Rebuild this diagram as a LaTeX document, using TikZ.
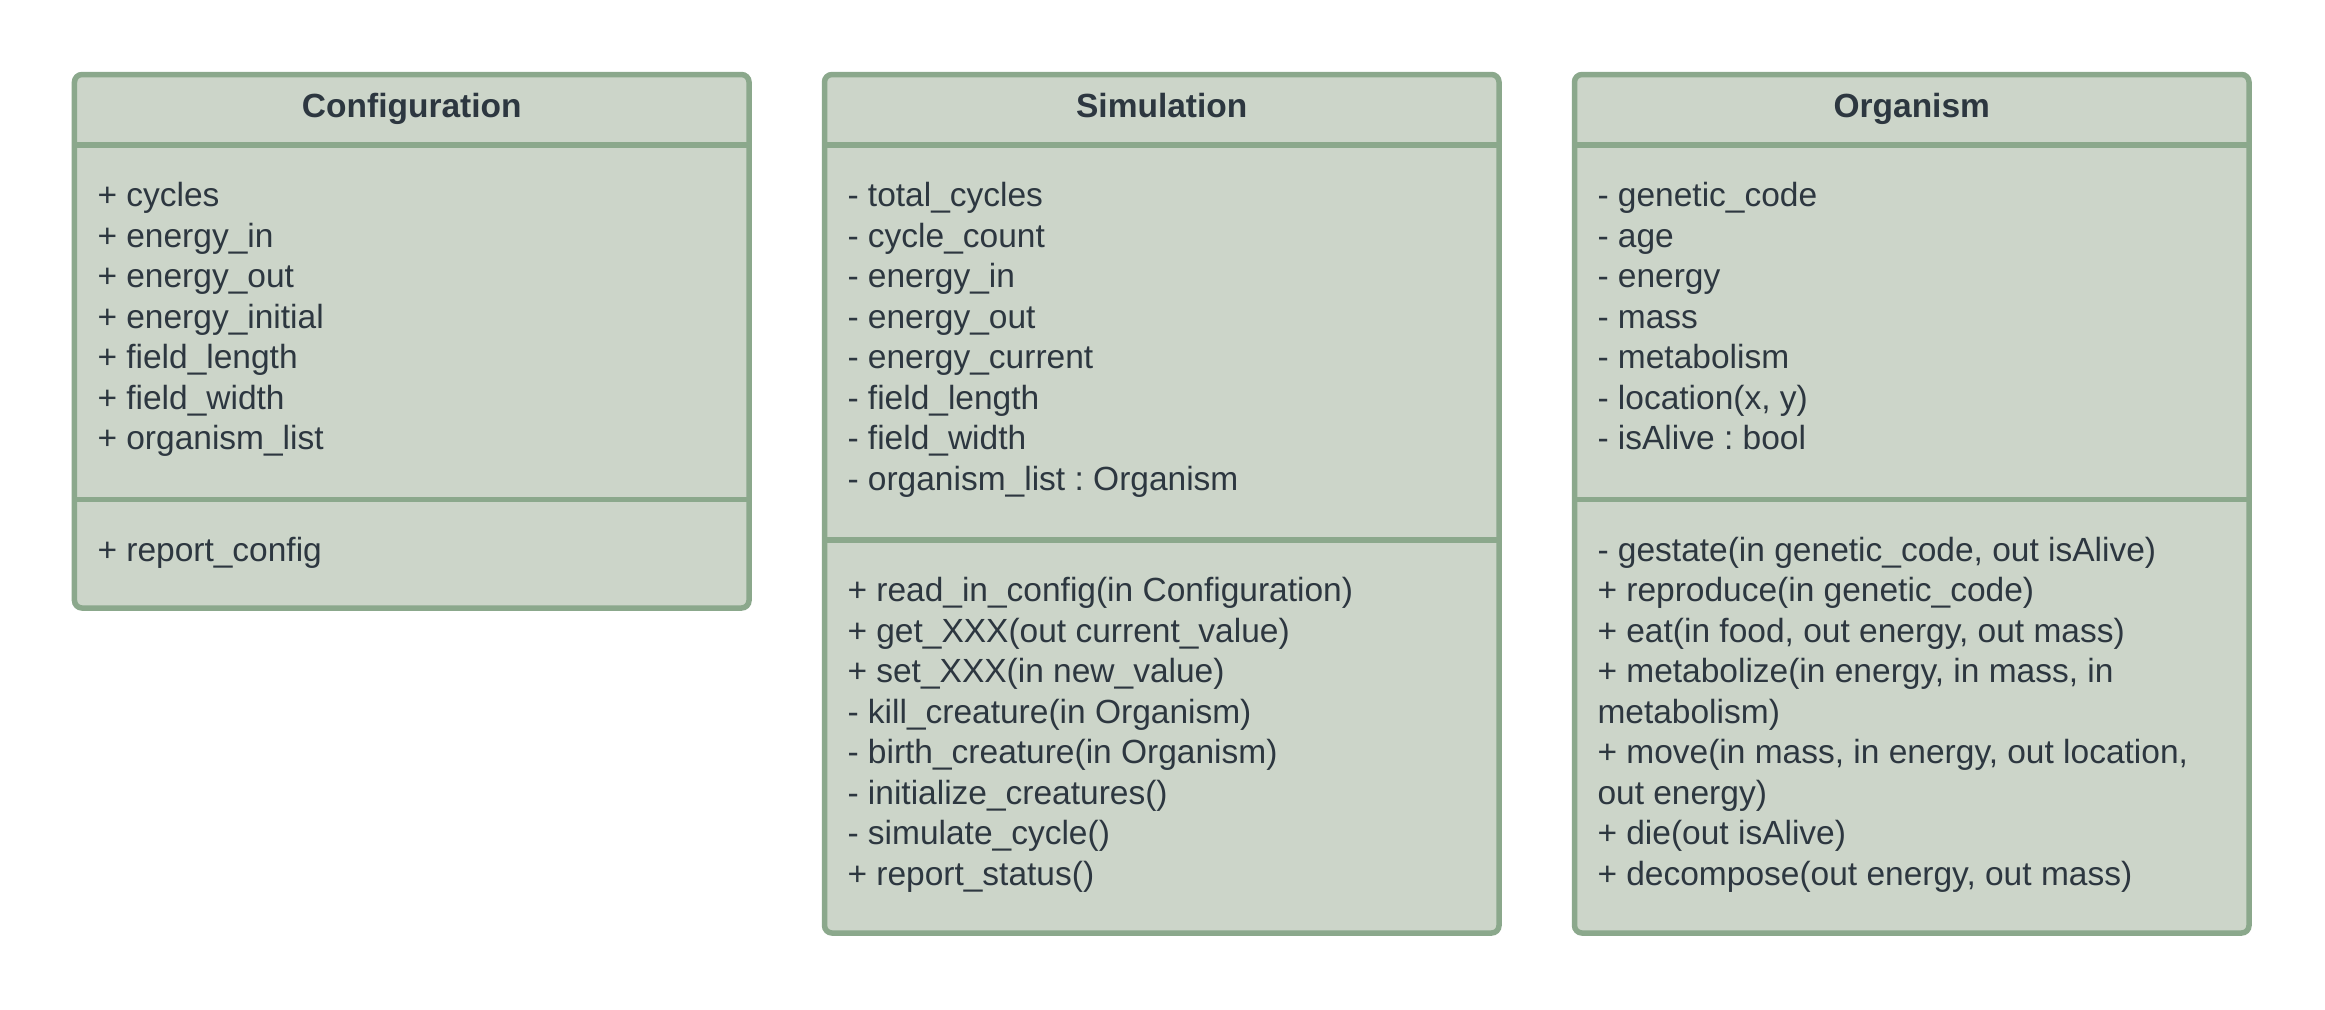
\documentclass[tikz,border=0pt]{standalone}
\usepackage{fontspec}
\setmainfont{Liberation Sans}
\usepackage{xcolor}
\usepackage{tikz}
\definecolor{boxfill}{RGB}{204,213,201}
\definecolor{boxline}{RGB}{139,168,140}
\definecolor{boxtext}{RGB}{45,55,64}
\frenchspacing

\begin{document}
\begin{tikzpicture}[x=0.4pt, y=-0.4pt]
\tikzstyle{classbox}=[rectangle, draw=boxline, fill=boxfill, line width=2.2pt, rounded corners=3pt, inner sep=0pt, minimum width=269.8pt]
\tikzstyle{sepline}=[draw=boxline, line width=2.2pt]
\tikzstyle{title}=[anchor=base, inner sep=0pt, text=boxtext, font=\fontsize{13.4}{16}\selectfont\bfseries]
\tikzstyle{member}=[anchor=base west, inner sep=0pt, text=boxtext, font=\fontsize{13.4}{16}\selectfont]
\useasboundingbox (0,0) rectangle (2325,1009);

% class boxes
\node[classbox, minimum height=213.4pt] (config) at (411.75,341.25) {};
\node[classbox, minimum height=343.4pt] (sim) at (1161.75,503.75) {};
\node[classbox, minimum height=343.4pt] (org) at (1911.75,503.75) {};

% compartments
\draw[sepline] (74.5,145) -- (749,145);
\draw[sepline] (74.5,499.5) -- (749,499.5);
\draw[sepline] (824.5,145) -- (1499,145);
\draw[sepline] (824.5,540) -- (1499,540);
\draw[sepline] (1574.5,145) -- (2249,145);
\draw[sepline] (1574.5,499.5) -- (2249,499.5);

% titles
\node[title] (configname) at (411.75,117.7) {Configuration};
\node[title] (simname) at (1161.75,117.7) {Simulation};
\node[title] (orgname) at (1911.75,117.7) {Organism};

% Configuration
\foreach \txt [count=\i] in {+ cycles, + energy\_in, + energy\_out, + energy\_initial, + field\_length, + field\_width, + organism\_list}
  \node[member] (configattr\i) at (97,{206.7+(\i-1)*40.5}) {\txt};
\node[member] (configop1) at (97,561) {+ report\_config};

% Simulation
\foreach \txt [count=\i] in {- total\_cycles, - cycle\_count, - energy\_in, - energy\_out, - energy\_current, - field\_length, - field\_width, - organism\_list : Organism}
  \node[member] (simattr\i) at (847,{206.7+(\i-1)*40.5}) {\txt};
\foreach \txt [count=\i] in {+ read\_in\_config(in Configuration), + get\_XXX(out current\_value), + set\_XXX(in new\_value), - kill\_creature(in Organism), - birth\_creature(in Organism), - initialize\_creatures(), - simulate\_cycle(), + report\_status()}
  \node[member] (simop\i) at (847,{601.5+(\i-1)*40.5}) {\txt};

% Organism
\foreach \txt [count=\i] in {- genetic\_code, - age, - energy, - mass, - metabolism, {- location(x, y)}, - isAlive : bool}
  \node[member] (orgattr\i) at (1597,{206.7+(\i-1)*40.5}) {\txt};
\foreach \txt [count=\i] in {{- gestate(in genetic\_code, out isAlive)}, + reproduce(in genetic\_code), {+ eat(in food, out energy, out mass)}, {+ metabolize(in energy, in mass, in}, metabolism), {+ move(in mass, in energy, out location,}, out energy), + die(out isAlive), {+ decompose(out energy, out mass)}}
  \node[member] (orgop\i) at (1597,{561+(\i-1)*40.5}) {\txt};

\end{tikzpicture}
\end{document}
